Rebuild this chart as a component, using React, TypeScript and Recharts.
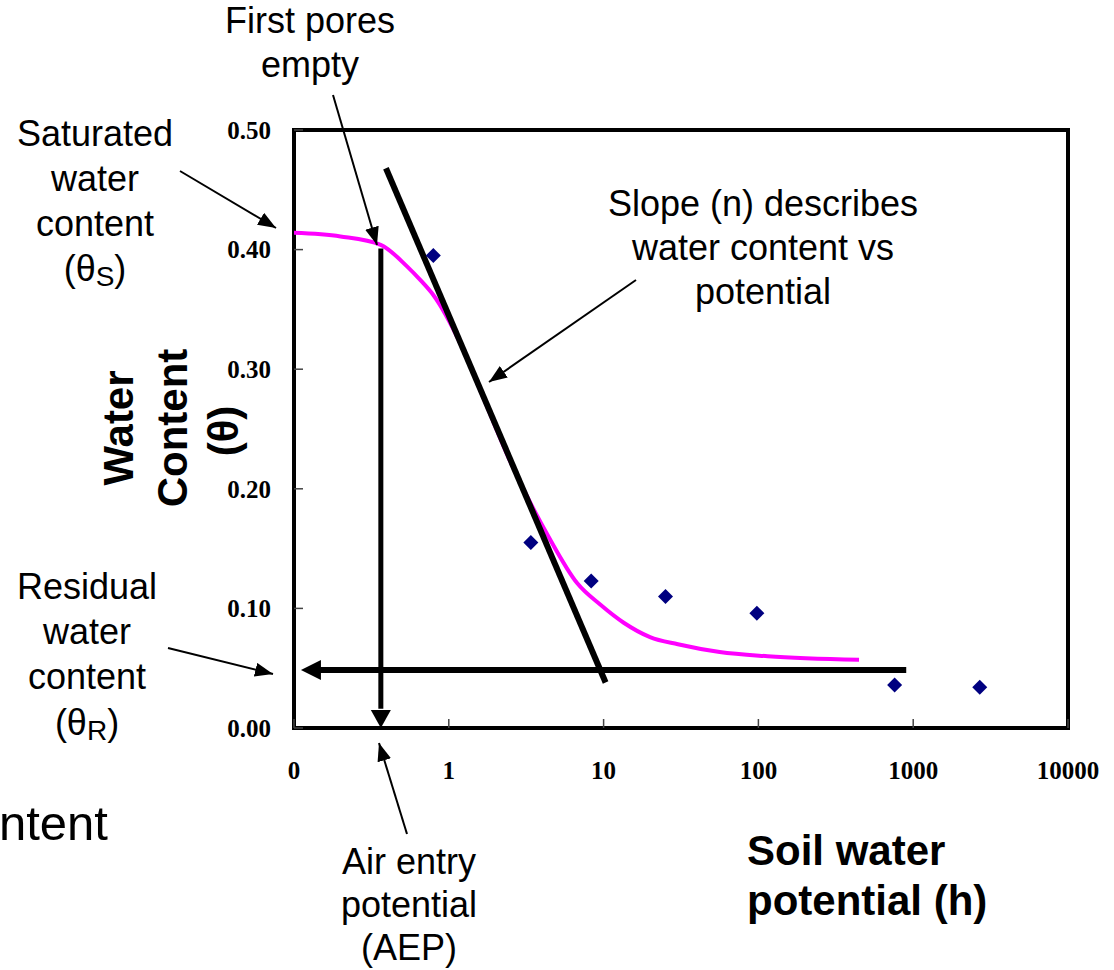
import React from "react";
import {
  ComposedChart,
  XAxis,
  YAxis,
  Line,
  Scatter,
  ReferenceArea,
} from "recharts";

// x positions are log10 of soil water potential; the "0" tick stands at log position -1
const potentialTicks = [-1, 0, 1, 2, 3, 4];
const potentialTickLabels = ["0", "1", "10", "100", "1000", "10000"];
const thetaTicks = [0, 0.1, 0.2, 0.3, 0.4, 0.5];

// observed points
const obsLogH = [-0.1, 0.53, 0.92, 1.4, 1.99, 2.88, 3.43];
const obsTheta = [0.395, 0.155, 0.123, 0.11, 0.096, 0.036, 0.034];

// fitted retention curve (magenta)
const fitLogH = [-1.0, -0.7, -0.44, -0.27, -0.18, -0.1, 0.08, 0.23, 0.4, 0.64, 0.83, 0.98, 1.13, 1.3, 1.48, 1.75, 2.06, 2.65];
const fitTheta = [0.414, 0.411, 0.404, 0.386, 0.374, 0.362, 0.32, 0.274, 0.222, 0.161, 0.121, 0.103, 0.088, 0.076, 0.07, 0.0635, 0.06, 0.057];

// slope line
const slopeLogH = [-0.406, 1.013];
const slopeTheta = [0.468, 0.038];

// air entry potential arrow (vertical)
const aepLogH = -0.439;
const aepTheta = [0.401, 0.016];
const aepTipTheta = 0;

// residual water content arrow (horizontal)
const residualTheta = 0.0484;
const residualLogH = [2.955, -0.87];
const residualTipLogH = -0.955;

const obsData = obsLogH.map((x, i) => ({ x, y: obsTheta[i] }));
const fitData = fitLogH.map((x, i) => ({ x, y: fitTheta[i] }));
const slopeData = slopeLogH.map((x, i) => ({ x, y: slopeTheta[i] }));
const aepData = aepTheta.map((y) => ({ x: aepLogH, y }));
const aepTip = [{ x: aepLogH, y: aepTipTheta }];
const residualData = residualLogH.map((x) => ({ x, y: residualTheta }));
const residualTip = [{ x: residualTipLogH, y: residualTheta }];

const SANS = "'Liberation Sans', Arial, sans-serif";
const SERIF = "'Liberation Serif', 'Times New Roman', serif";

const Diamond = (props: any) => {
  const { cx, cy } = props;
  const r = 7.5;
  return (
    <polygon
      points={`${cx},${cy - r} ${cx + r},${cy} ${cx},${cy + r} ${cx - r},${cy}`}
      fill="#000080"
    />
  );
};

const DownHead = (props: any) => {
  const { cx, cy } = props;
  return <polygon points={`${cx},${cy} ${cx - 10},${cy - 18} ${cx + 10},${cy - 18}`} fill="#000" />;
};

const LeftHead = (props: any) => {
  const { cx, cy } = props;
  return <polygon points={`${cx},${cy} ${cx + 20},${cy - 10} ${cx + 20},${cy + 10}`} fill="#000" />;
};

const tickStyle = { fill: "#000", fontSize: 25, fontWeight: "bold", fontFamily: SERIF };

export default function App() {
  const annoText = { fontFamily: SANS, fontSize: 36, fill: "#000" } as const;
  return (
    <div style={{ position: "absolute", left: 0, top: 0, width: 1114, height: 970, background: "#fff" }}>
      <ComposedChart width={1114} height={970} margin={{ top: 130, right: 46, bottom: 212, left: 234 }}>
        <XAxis
          type="number"
          dataKey="x"
          domain={[-1, 4]}
          ticks={potentialTicks}
          interval={0}
          allowDataOverflow
          axisLine={false}
          tickSize={-9}
          tickMargin={42}
          tickLine={{ stroke: "#444", strokeWidth: 1.5 }}
          tick={tickStyle}
          tickFormatter={(v: number) => potentialTickLabels[potentialTicks.indexOf(v)] ?? ""}
        />
        <YAxis
          type="number"
          dataKey="y"
          domain={[0, 0.5]}
          ticks={thetaTicks}
          interval={0}
          width={60}
          allowDataOverflow
          axisLine={false}
          tickSize={-9}
          tickMargin={32}
          tickLine={{ stroke: "#444", strokeWidth: 1.5 }}
          tick={tickStyle}
          tickFormatter={(v: number) => v.toFixed(2)}
        />
        <ReferenceArea x1={-1} x2={4} y1={0} y2={0.5} fill="none" fillOpacity={0} stroke="#000" strokeWidth={4} />
        <Line data={fitData} dataKey="y" type="monotone" stroke="#FF00FF" strokeWidth={4} dot={false} isAnimationActive={false} />
        <Line data={slopeData} dataKey="y" type="linear" stroke="#000" strokeWidth={6} dot={false} isAnimationActive={false} />
        <Line data={aepData} dataKey="y" type="linear" stroke="#000" strokeWidth={5} dot={false} isAnimationActive={false} />
        <Line data={residualData} dataKey="y" type="linear" stroke="#000" strokeWidth={6} dot={false} isAnimationActive={false} />
        <Scatter data={aepTip} dataKey="y" shape={DownHead} isAnimationActive={false} />
        <Scatter data={residualTip} dataKey="y" shape={LeftHead} isAnimationActive={false} />
        <Scatter data={obsData} dataKey="y" shape={Diamond} isAnimationActive={false} />
      </ComposedChart>
      <svg
        width={1114}
        height={970}
        style={{ position: "absolute", left: 0, top: 0, pointerEvents: "none" }}
      >
        <defs>
          <marker id="ah" markerWidth="18" markerHeight="14" refX="18" refY="7" orient="auto" markerUnits="userSpaceOnUse">
            <path d="M0,0 L18,7 L0,14 z" fill="#000" />
          </marker>
        </defs>
        {/* annotation arrows */}
        <line x1={333} y1={95} x2={377} y2={245} stroke="#000" strokeWidth={2} markerEnd="url(#ah)" />
        <line x1={180} y1={171} x2={276} y2={228} stroke="#000" strokeWidth={2} markerEnd="url(#ah)" />
        <line x1={636} y1={280} x2={489} y2={382} stroke="#000" strokeWidth={2} markerEnd="url(#ah)" />
        <line x1={168} y1={648} x2={273} y2={674} stroke="#000" strokeWidth={2} markerEnd="url(#ah)" />
        <line x1={407} y1={834} x2={379} y2={743} stroke="#000" strokeWidth={2} markerEnd="url(#ah)" />

        {/* annotation texts */}
        <text {...annoText} x={310} y={33} textAnchor="middle">First pores</text>
        <text {...annoText} x={310} y={77} textAnchor="middle">empty</text>

        <text {...annoText} x={95} y={146} textAnchor="middle">Saturated</text>
        <text {...annoText} x={95} y={191} textAnchor="middle">water</text>
        <text {...annoText} x={95} y={236} textAnchor="middle">content</text>
        <text {...annoText} x={95} y={281} textAnchor="middle">
          (θ<tspan fontSize={28} dy={5}>S</tspan><tspan dy={-5}>)</tspan>
        </text>

        <text {...annoText} x={763} y={216} textAnchor="middle">Slope (n) describes</text>
        <text {...annoText} x={763} y={260} textAnchor="middle">water content vs</text>
        <text {...annoText} x={763} y={304} textAnchor="middle">potential</text>

        <text {...annoText} x={87} y={599} textAnchor="middle">Residual</text>
        <text {...annoText} x={87} y={644} textAnchor="middle">water</text>
        <text {...annoText} x={87} y={689} textAnchor="middle">content</text>
        <text {...annoText} x={87} y={735} textAnchor="middle">
          (θ<tspan fontSize={28} dy={5}>R</tspan><tspan dy={-5}>)</tspan>
        </text>

        <text {...annoText} x={409} y={874} textAnchor="middle">Air entry</text>
        <text {...annoText} x={409} y={917} textAnchor="middle">potential</text>
        <text {...annoText} x={409} y={960} textAnchor="middle">(AEP)</text>

        <text fontFamily={SANS} fontSize={49} fill="#000" x={-1} y={840} textAnchor="start">ntent</text>

        {/* axis titles */}
        <g fontFamily={SANS} fontSize={42} fontWeight="bold" fill="#000">
          <text transform="translate(133,428) rotate(-90)" textAnchor="middle">Water</text>
          <text transform="translate(187,428) rotate(-90)" textAnchor="middle">Content</text>
          <text transform="translate(238,431) rotate(-90)" textAnchor="middle">(θ)</text>
          <text x={747} y={865}>Soil water</text>
          <text x={747} y={915}>potential (h)</text>
        </g>
      </svg>
    </div>
  );
}
